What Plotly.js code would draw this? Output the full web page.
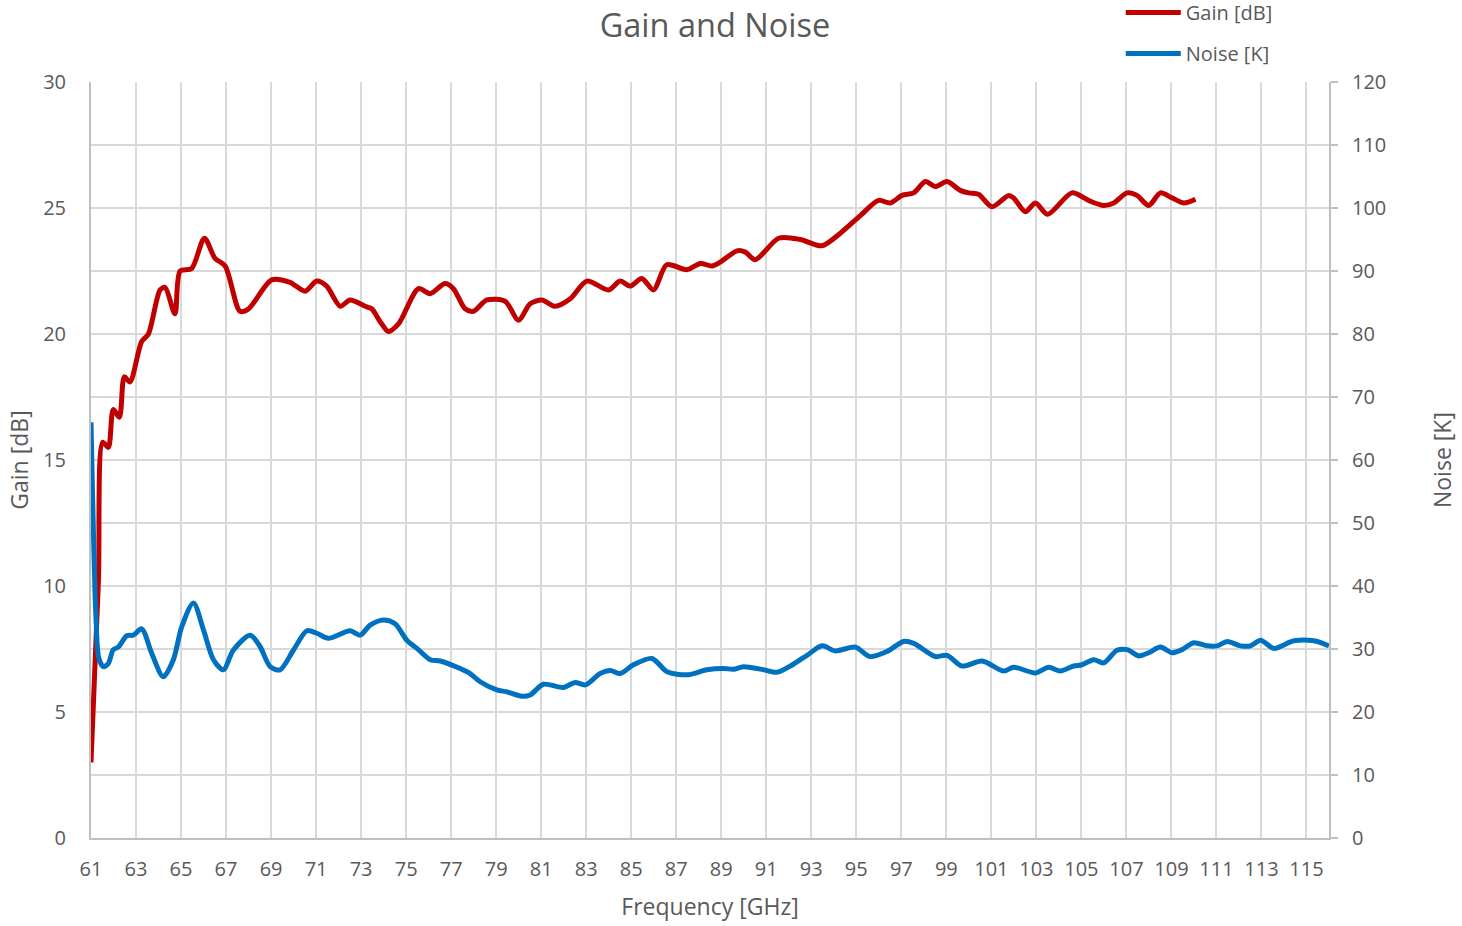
<!DOCTYPE html>
<html>
<head>
<meta charset="utf-8">
<script src="https://cdn.plot.ly/plotly-3.0.1.min.js"></script>
<style>html,body{margin:0;padding:0;background:#fff;}#chart{width:1462px;height:926px;}</style>
</head>
<body>
<div id="chart"></div>
<script>
// Gain [dB] vs frequency [GHz]
const gainFreq = [61.0,61.33,61.52,61.77,61.99,62.26,62.48,62.73,63.25,63.55,64.07,64.29,64.73,64.96,65.47,66.04,66.51,66.96,67.62,68.0,69.03,69.84,70.51,71.03,71.47,72.07,72.51,73.18,73.47,73.84,74.21,74.66,75.55,76.07,76.73,77.1,77.62,77.99,78.59,79.4,79.99,80.51,81.03,81.62,82.29,83.03,83.99,84.51,84.96,85.47,85.99,86.58,87.47,88.07,88.58,88.95,89.7,90.07,90.51,91.55,92.51,93.47,94.29,95.18,95.99,96.51,97.03,97.55,98.07,98.51,99.03,99.62,100.0,100.43,101.03,101.77,101.99,102.51,102.96,103.5,104.58,105.32,105.99,106.44,107.03,107.47,107.99,108.51,109.03,109.55,110.07];
const gainDb = [3.0,10.2,15.7,15.5,17.0,16.7,18.3,18.1,19.7,20.0,21.75,21.85,20.8,22.5,22.6,23.8,23.0,22.7,20.9,21.0,22.15,22.05,21.7,22.1,21.9,21.1,21.35,21.1,21.0,20.5,20.1,20.4,21.8,21.6,22.0,21.8,21.0,20.9,21.35,21.3,20.55,21.2,21.35,21.1,21.4,22.1,21.75,22.1,21.9,22.2,21.75,22.75,22.55,22.8,22.7,22.85,23.3,23.25,22.95,23.8,23.75,23.5,24.0,24.7,25.3,25.2,25.5,25.6,26.05,25.85,26.05,25.7,25.6,25.55,25.05,25.5,25.4,24.85,25.2,24.75,25.6,25.3,25.1,25.2,25.6,25.5,25.1,25.6,25.4,25.2,25.35];

// Noise [K] vs frequency [GHz]
const noiseFreq = [61.0,61.22,61.35,61.55,61.77,61.99,62.21,62.59,62.88,63.25,63.7,64.21,64.66,65.03,65.55,66.0,66.44,66.88,67.32,68.07,68.51,68.96,69.4,69.99,70.59,71.03,71.55,72.51,72.96,73.4,73.99,74.51,75.03,75.48,76.07,76.51,77.4,77.84,78.29,79.03,79.48,80.14,80.51,81.1,81.99,82.51,82.96,83.62,84.07,84.51,85.1,85.92,86.59,87.48,88.36,89.11,89.55,89.99,90.88,91.47,92.07,92.81,93.48,94.07,94.96,95.6,96.36,97.1,97.55,98.51,99.03,99.7,100.59,101.55,101.99,102.96,103.55,104.07,104.66,105.03,105.55,105.99,106.58,107.03,107.55,107.99,108.51,109.03,109.47,109.99,110.58,111.03,111.48,112.07,112.51,112.96,113.55,114.44,115.33,116.0];
const noiseK = [66,35,28.5,27.2,27.7,29.9,30.3,32.1,32.2,33.2,29.3,25.6,28.3,33.5,37.3,33.0,28.3,26.7,29.8,32.2,30.4,27.2,26.7,29.8,32.9,32.5,31.7,32.9,32.2,33.8,34.6,34.0,31.4,30.1,28.3,28.1,26.9,26.1,24.8,23.5,23.2,22.5,22.7,24.4,23.9,24.7,24.3,26.1,26.6,26.1,27.5,28.5,26.4,25.9,26.7,26.9,26.8,27.2,26.7,26.3,27.3,29.0,30.5,29.7,30.3,28.8,29.6,31.2,30.9,28.8,29.0,27.3,28.1,26.5,27.1,26.2,27.1,26.5,27.3,27.5,28.3,27.8,29.8,29.9,28.9,29.4,30.3,29.4,29.9,31.0,30.5,30.5,31.2,30.5,30.5,31.4,30.1,31.3,31.3,30.5];

const gainTicks = [0,2.5,5,7.5,10,12.5,15,17.5,20,22.5,25,27.5,30];
const gainTickText = ['0','','5','','10','','15','','20','','25','','30'];

const txt = '#595959';
const fontFam = '"Open Sans", "Noto Sans", sans-serif';

const traces = [
  {x: gainFreq, y: gainDb, name: 'Gain [dB]', type: 'scatter', mode: 'lines',
   line: {color: '#c00000', width: 5, shape: 'spline', smoothing: 0.8}, yaxis: 'y', legendgroup: 'g'},
  {x: noiseFreq, y: noiseK, name: 'Noise [K]', type: 'scatter', mode: 'lines',
   line: {color: '#0070c0', width: 5, shape: 'spline', smoothing: 0.8}, yaxis: 'y2', legendgroup: 'n'}
];

const layout = {
  width: 1462, height: 926,
  paper_bgcolor: '#fff', plot_bgcolor: '#fff',
  margin: {l: 91, r: 133, t: 82, b: 88, autoexpand: false},
  font: {family: fontFam, color: txt, size: 20},
  title: {text: 'Gain and Noise', font: {size: 32.5, color: txt, family: fontFam}, x: 0.489, xanchor: 'center', y: 0.972, yanchor: 'middle'},
  showlegend: true,
  legend: {xref: 'paper', yref: 'paper', x: 0.8318, y: 1.1178, xanchor: 'left', yanchor: 'top', itemwidth: 55,
           font: {size: 20, color: txt}, tracegroupgap: 12, bgcolor: 'rgba(0,0,0,0)'},
  xaxis: {range: [61, 116], tick0: 61, dtick: 2, showgrid: true, gridcolor: '#d9d9d9', gridwidth: 2,
          showline: true, linecolor: '#bfbfbf', linewidth: 2, ticks: '', zeroline: false,
          tickfont: {size: 20, color: txt}, ticklabelstandoff: 12,
          title: {text: 'Frequency [GHz]', font: {size: 23, color: txt}, standoff: 18}},
  yaxis: {range: [0, 30], tickvals: gainTicks, ticktext: gainTickText, showgrid: true, gridcolor: '#d9d9d9', gridwidth: 2,
          showline: true, linecolor: '#bfbfbf', linewidth: 2, ticks: '', zeroline: false,
          tickfont: {size: 20, color: txt}, ticklabelstandoff: 19,
          title: {text: 'Gain [dB]', font: {size: 23, color: txt}, standoff: 8}},
  yaxis2: {range: [0, 120], dtick: 10, overlaying: 'y', side: 'right', showgrid: false,
          showline: true, linecolor: '#bfbfbf', linewidth: 2, ticks: 'outside', ticklen: 7, tickcolor: '#bfbfbf', tickwidth: 2,
          zeroline: false, tickfont: {size: 20, color: txt}, ticklabelstandoff: 10},
  annotations: [
    {text: 'Noise [K]', xref: 'paper', yref: 'paper', x: 1.0913, y: 0.5, xanchor: 'center', yanchor: 'middle',
     textangle: -90, showarrow: false, font: {size: 23, color: txt}}
  ]
};

Plotly.newPlot('chart', traces, layout, {displayModeBar: false, staticPlot: true});
</script>
</body>
</html>
